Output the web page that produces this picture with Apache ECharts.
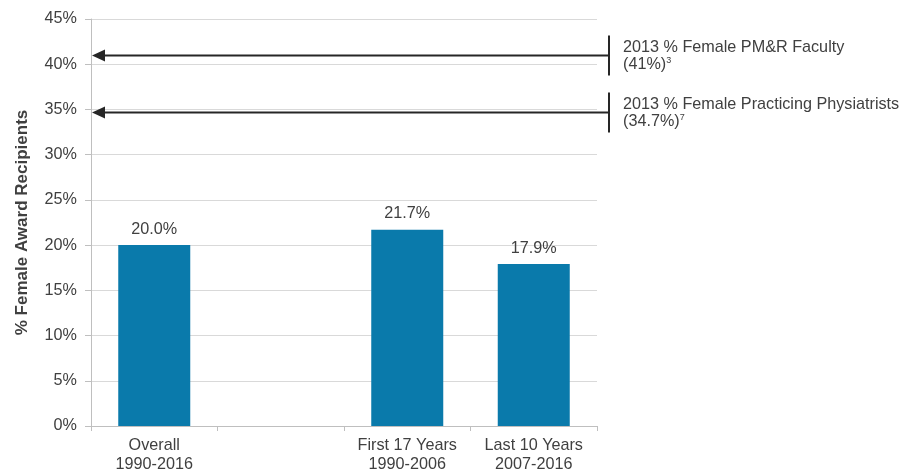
<!DOCTYPE html>
<html>
<head>
<meta charset="utf-8">
<script src="https://cdn.jsdelivr.net/npm/echarts@6/dist/echarts.min.js"></script>
<style>
html,body{margin:0;padding:0;background:#fff;}
#c{width:905px;height:471px;}
</style>
</head>
<body>
<div id="c"></div>
<script>
const categories = ["Overall\n1990-2016", "", "First 17 Years\n1990-2006", "Last 10 Years\n2007-2016"];
const values = [20.0, null, 21.7, 17.9];
const yTicks = [0, 5, 10, 15, 20, 25, 30, 35, 40, 45];
const refValues = [41, 34.7];
const refTitles = ["2013 % Female PM&R Faculty", "2013 % Female Practicing Physiatrists"];
const refLabels = ["(41%)", "(34.7%)"];
const refNotes = ["3", "7"];

const FONT = "Liberation Sans, Arial, sans-serif";
const FS = 16.2;
const chart = echarts.init(document.getElementById('c'), null, {renderer: 'canvas'});
const option = {
  animation: false,
  grid: {left: 91, right: 308, top: 19, bottom: 45, containLabel: false, outerBoundsMode: 'none'},
  xAxis: {
    type: 'category',
    data: categories,
    axisLine: {lineStyle: {color: '#bfbfbf', width: 1}},
    axisTick: {show: true, length: 5, lineStyle: {color: '#bfbfbf'}},
    axisLabel: {color: '#404040', fontFamily: FONT, fontSize: FS, lineHeight: 19, margin: 10, interval: 0}
  },
  yAxis: {
    type: 'value',
    min: yTicks[0], max: yTicks[yTicks.length - 1], interval: 5,
    name: '% Female Award Recipients',
    nameLocation: 'middle',
    nameGap: 60,
    nameTextStyle: {color: '#404040', fontFamily: FONT, fontSize: 17, fontWeight: 'bold'},
    axisLine: {show: true, lineStyle: {color: '#bfbfbf'}},
    axisTick: {show: true, length: 6, lineStyle: {color: '#bfbfbf'}},
    splitLine: {lineStyle: {color: '#d9d9d9'}},
    axisLabel: {color: '#404040', fontFamily: FONT, fontSize: FS, margin: 14, padding: [3, 0, 0, 0], formatter: v => v + '%'}
  },
  series: [{
    type: 'bar',
    data: values,
    barWidth: 72,
    itemStyle: {color: '#0a7aab'},
    label: {show: true, position: 'top', distance: 8, color: '#404040', fontFamily: FONT, fontSize: FS,
      formatter: p => p.value.toFixed(1) + '%'}
  }]
};
chart.setOption(option);

const xLeft = 91;
const xRight = 905 - 308 + 12;
const graphics = [];
refValues.forEach((v, i) => {
  const y = Math.round(chart.convertToPixel({yAxisIndex: 0}, v)) + 0.5;
  graphics.push({type: 'line', shape: {x1: xLeft + 10, y1: y, x2: xRight, y2: y},
    style: {stroke: '#262626', lineWidth: 2}, silent: true});
  graphics.push({type: 'polygon', shape: {points: [[xLeft + 1, y], [xLeft + 14, y - 6], [xLeft + 14, y + 6]]},
    style: {fill: '#262626'}, silent: true});
  graphics.push({type: 'line', shape: {x1: xRight, y1: y - 20, x2: xRight, y2: y + 20},
    style: {stroke: '#262626', lineWidth: 2}, silent: true});
  graphics.push({type: 'text', left: xRight + 14, top: y - 16,
    style: {text: '{a|' + refTitles[i] + '}\n{a|' + refLabels[i] + '}{s|' + refNotes[i] + '}',
      rich: {
        a: {fontFamily: FONT, fontSize: FS, fill: '#404040', lineHeight: 17, height: 17},
        s: {fontFamily: FONT, fontSize: 9, fill: '#404040', verticalAlign: 'top', lineHeight: 17, padding: [0,0,8,0]}
      }}, silent: true});
});
chart.setOption({graphic: graphics});
</script>
</body>
</html>
